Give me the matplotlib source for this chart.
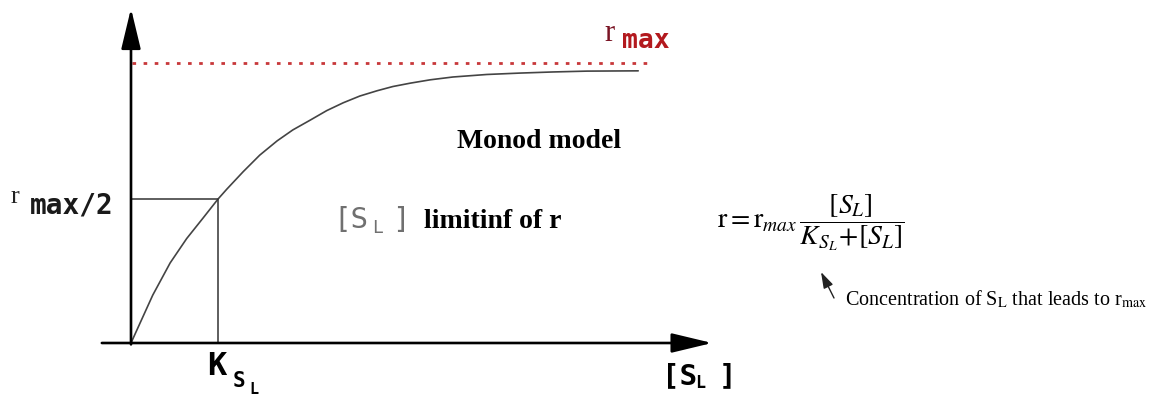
import matplotlib.pyplot as plt

# substrate concentration (units of K_S) and growth rate (units of r_max)
s_conc = [0.0, 0.25, 0.45, 0.64, 0.83, 1.0, 1.10, 1.29, 1.48, 1.68, 1.86,
          2.06, 2.25, 2.44, 2.63, 2.83, 3.01, 3.21, 3.44, 3.70, 4.09, 4.47,
          4.85, 5.24, 5.83]
rate = [0.0, 0.171, 0.286, 0.373, 0.447, 0.514, 0.549, 0.612, 0.671,
        0.722, 0.761, 0.796, 0.830, 0.858, 0.882, 0.901, 0.916, 0.928, 0.940,
        0.95, 0.959, 0.964, 0.968, 0.971, 0.972]
K_S = 1.0
r_max = 1.0
r_half = 0.514
s_end = 5.97

W, H = 1160, 397
fig = plt.figure(figsize=(W / 100, H / 100), dpi=100)
ax = fig.add_axes([0, 0, 1, 1])
# origin sits at pixel (131, 343); 87 px per K_S, 280 px per r_max
ax.set_xlim(-131 / 87, (W - 131) / 87)
ax.set_ylim(-(H - 343) / 280, 343 / 280)
ax.axis('off')

mono = 'DejaVu Sans Mono'
serif = 'Liberation Serif'


def ftext(x, y, s, **kw):
    # place text using pixel positions from the top-left corner
    fig.text(x / W, 1 - y / H, s, va='baseline', **kw)


arrow = dict(arrowstyle='-|>,head_length=1.25,head_width=0.3', lw=1.9,
             color='black', mutation_scale=20, shrinkA=0, shrinkB=0)
ax.annotate('', xy=(0, 1.195), xytext=(0, -0.005), arrowprops=arrow)
ax.annotate('', xy=(6.68, 0), xytext=(-0.335, 0), arrowprops=arrow)

ax.plot([0.01, s_end], [r_max, r_max], color='#c8383a', lw=2.0,
        linestyle=(0, (1.3, 2.7)))
ax.plot(s_conc, rate, color='#444444', lw=1.2, solid_capstyle='round',
        solid_joinstyle='round')
ax.plot([0, K_S, K_S], [r_half, r_half, 0], color='#333333', lw=1.1)

# axis labels
ftext(604, 41, 'r', family=serif, fontsize=22, color='#7a1424')
ftext(622, 48, 'max', family=mono, fontsize=19, weight='bold', color='#b3191e')
ftext(11, 203, 'r', family=serif, fontsize=19, color='#222222')
ftext(30, 213, 'max/2', family=mono, fontsize=20, weight='bold', color='#1a1a1a')
ftext(207, 375, 'K', family=mono, fontsize=23, weight='bold')
ftext(233, 387, 'S', family=mono, fontsize=15, weight='bold')
ftext(249, 394, 'L', family=mono, fontsize=11, weight='bold')
ftext(662, 384, '[S', family=mono, fontsize=21, weight='bold')
ftext(695, 388, 'L', family=mono, fontsize=12, weight='bold')
ftext(719, 384, ']', family=mono, fontsize=21, weight='bold')

# annotations inside the plot
ftext(457, 148, 'Monod model', family=serif, fontsize=20, weight='bold')
ftext(333, 228, '[S', family=mono, fontsize=21, color='#707070')
ftext(372, 233, 'L', family=mono, fontsize=13, color='#707070')
ftext(392, 228, ']', family=mono, fontsize=21, color='#707070')
ftext(424, 228, 'limitinf of r', family=serif, fontsize=20, weight='bold')

# rate equation
plt.rcParams['mathtext.fontset'] = 'stix'
ftext(717, 228, r'$\mathrm{r}=\mathrm{r}_{max}\,\dfrac{[S_L]}{K_{S_L}\!+\![S_L]}$',
      family=serif, fontsize=20)
ax.annotate('', xy=((821 - 131) / 87, (343 - 272) / 280),
            xytext=((834 - 131) / 87, (343 - 298) / 280),
            arrowprops=dict(arrowstyle='-|>,head_length=0.7,head_width=0.22',
                            lw=1.0, color='#222222', mutation_scale=14,
                            shrinkA=0, shrinkB=0))
ftext(845, 305, r'Concentration of S$_\mathrm{L}$ that leads to r$_\mathrm{max}$',
      family=serif, fontsize=14.5)

fig.savefig('out.png', dpi=100)
